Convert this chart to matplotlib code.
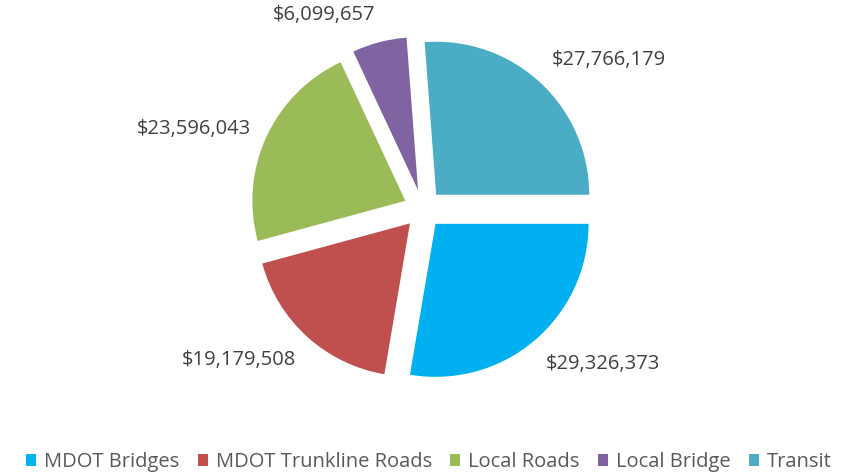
import numpy as np
import matplotlib.pyplot as plt
from matplotlib.patches import Patch

categories = ["MDOT Bridges", "MDOT Trunkline Roads", "Local Roads", "Local Bridge", "Transit"]
values = [29326373, 19179508, 23596043, 6099657, 27766179]
colors = ["#00B0F0", "#C0504D", "#9BBB59", "#8064A2", "#4BACC6"]

W, H = 858, 475
cx, cy = 423, 266  # pie centre, pixels from bottom-left
r_px = 153
half = 200

plt.rcParams["font.family"] = ["Open Sans", "DejaVu Sans"]

fig = plt.figure(figsize=(W / 100, H / 100), dpi=100)
ax = fig.add_axes([(cx - half) / W, (cy - half) / H, 2 * half / W, 2 * half / H])

wedges, _ = ax.pie(
    values,
    colors=colors,
    startangle=0,
    counterclock=False,
    explode=[0.127] * len(values),
    radius=1,
    wedgeprops=dict(linewidth=0),
)
lim = half / r_px
ax.set_xlim(-lim, lim)
ax.set_ylim(-lim, lim)
ax.set_aspect("equal")
ax.axis("off")

# data labels outside each slice
for w, v in zip(wedges, values):
    mid = np.deg2rad((w.theta1 + w.theta2) / 2)
    c, s = np.cos(mid), np.sin(mid)
    ha = "left" if c > 0 else "right"
    if abs(s) < 0.6:
        va = "center"
    else:
        va = "bottom" if s > 0 else "top"
    d = 1.24
    ax.text(d * c, d * s, "${:,}".format(v), ha=ha, va=va,
            fontsize=14.5, color="#404040", clip_on=False)

handles = [Patch(facecolor=c, edgecolor="none") for c in colors]
fig.legend(
    handles,
    categories,
    loc="center",
    bbox_to_anchor=(0.5, 13 / H),
    ncol=len(categories),
    frameon=False,
    fontsize=14.5,
    labelcolor="#595959",
    handlelength=0.5,
    handleheight=0.5,
    handletextpad=0.4,
    columnspacing=0.9,
)

plt.savefig("out.png", dpi=100)
